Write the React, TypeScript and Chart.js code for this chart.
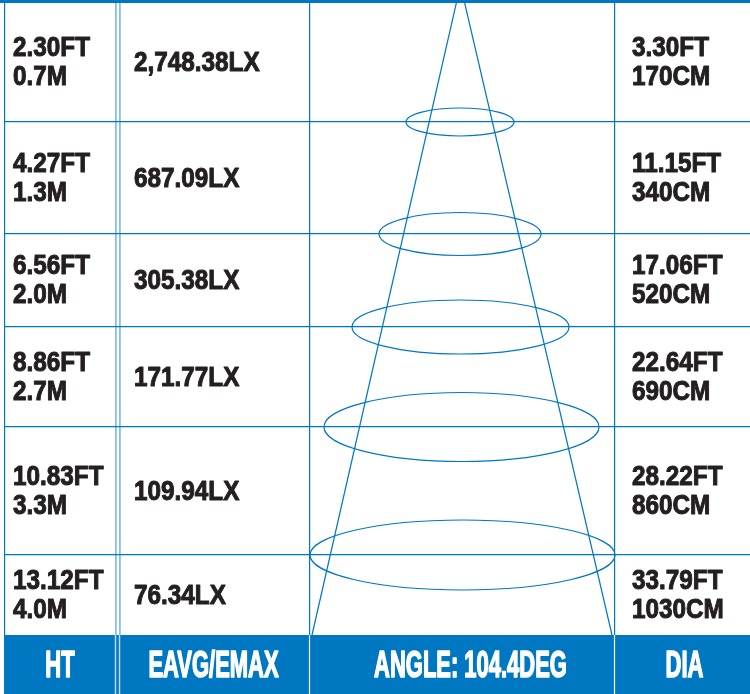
import React, { useEffect, useRef } from "react";
import { Chart, registerables } from "chart.js";

Chart.register(...registerables);

// ---- data ----
const HEIGHT_FT = [2.3, 4.27, 6.56, 8.86, 10.83, 13.12];
const HEIGHT_M = [0.7, 1.3, 2.0, 2.7, 3.3, 4.0];
const LUX = [2748.38, 687.09, 305.38, 171.77, 109.94, 76.34];
const DIA_FT = [3.3, 11.15, 17.06, 22.64, 28.22, 33.79];
const DIA_CM = [170, 340, 520, 690, 860, 1030];
const HEADERS = ["HT", "EAVG/EMAX", "ANGLE: 104.4DEG", "DIA"];

// ---- layout (diagram units = pixels of the 750x694 sheet) ----
const W = 750;
const H = 694;
const ROW_EDGES = [3, 122, 234, 327, 427, 555, 635];
const FOOTER_TOP = 635;
const LEFT = 4;
const COL_LINES = [4.5, 115.5, 119.5, 309.5, 614.5];
const LIGHT_COLS = [115.5, 119.5];
const TEXT_X = [13, 134, 632];
const HEADER_X = [60, 213.5, 470.5, 684.5];
const CONE_LEFT = [
  { x: 457, y: 0 },
  { x: 312, y: 635 },
];
const CONE_RIGHT = [
  { x: 464, y: 0 },
  { x: 612, y: 635 },
];
const ELL_CX = [460, 460, 460.5, 461.5, 462.5];
const ELL_RX = [54, 81, 108.5, 137.5, 152.5];
const ELL_RY = [14, 21.5, 27, 34.5, 35];

const BLUE = "#0077c1";
const LIGHT = "#86c0e8";
const INK = "#231f20";
const BODY_FONT = 'bold 27px "Liberation Sans", Arial, sans-serif';
const HEAD_FONT = 'bold 36px "Liberation Sans", Arial, sans-serif';

const fmtLux = (v: number) =>
  v.toLocaleString("en-US", { minimumFractionDigits: 2, maximumFractionDigits: 2 }) + "LX";

function squeezeText(
  ctx: CanvasRenderingContext2D,
  text: string,
  x: number,
  y: number,
  sx: number,
  align: "left" | "center",
  weight: number
) {
  ctx.save();
  ctx.translate(x, y);
  ctx.scale(sx, 1);
  ctx.textAlign = align;
  ctx.textBaseline = "alphabetic";
  ctx.lineJoin = "round";
  ctx.lineWidth = weight;
  ctx.strokeText(text, 0, 0);
  ctx.fillText(text, 0, 0);
  ctx.restore();
}

const tablePlugin = {
  id: "photometricTable",
  beforeDraw(chart: any) {
    const ctx = chart.ctx;
    ctx.save();
    ctx.fillStyle = "#ffffff";
    ctx.fillRect(0, 0, chart.width, chart.height);
    ctx.restore();
  },
  afterDatasetsDraw(chart: any) {
    const ctx: CanvasRenderingContext2D = chart.ctx;
    const xs = chart.scales.x;
    const ys = chart.scales.y;
    const px = (v: number) => xs.getPixelForValue(v);
    const py = (v: number) => ys.getPixelForValue(v);

    // ellipses at row boundaries
    ctx.save();
    ctx.strokeStyle = BLUE;
    ctx.lineWidth = 1.2;
    for (let i = 0; i < ELL_CX.length; i++) {
      const cx = px(ELL_CX[i]);
      const cy = py(ROW_EDGES[i + 1]);
      const rx = px(ELL_CX[i] + ELL_RX[i]) - cx;
      const ry = Math.abs(py(ROW_EDGES[i + 1] + ELL_RY[i]) - cy);
      ctx.beginPath();
      ctx.ellipse(cx, cy, rx, ry, 0, 0, Math.PI * 2);
      ctx.stroke();
    }
    ctx.restore();

    // top band
    ctx.save();
    ctx.fillStyle = BLUE;
    ctx.fillRect(0, 0, chart.width, py(3));
    // footer band
    const ft = py(FOOTER_TOP);
    ctx.fillRect(px(LEFT), ft, chart.width - px(LEFT), chart.height - ft);
    // footer dividers
    for (const c of COL_LINES.slice(1)) {
      ctx.strokeStyle = LIGHT_COLS.includes(c) ? "#b5dbf3" : "#ffffff";
      ctx.lineWidth = LIGHT_COLS.includes(c) ? 1.5 : 1.2;
      ctx.beginPath();
      ctx.moveTo(Math.round(px(c) - 0.5) + 0.5, ft);
      ctx.lineTo(Math.round(px(c) - 0.5) + 0.5, chart.height);
      ctx.stroke();
    }
    ctx.restore();

    // body text
    ctx.save();
    ctx.fillStyle = INK;
    ctx.strokeStyle = INK;
    ctx.font = BODY_FONT;
    for (let i = 0; i < HEIGHT_FT.length; i++) {
      const c = (py(ROW_EDGES[i]) + py(ROW_EDGES[i + 1])) / 2 - 1.5;
      const b1 = c - 5;
      const b2 = c + 24;
      squeezeText(ctx, HEIGHT_FT[i].toFixed(2) + "FT", px(TEXT_X[0]), b1, 0.9, "left", 1);
      squeezeText(ctx, HEIGHT_M[i].toFixed(1) + "M", px(TEXT_X[0]), b2, 0.9, "left", 1);
      squeezeText(ctx, fmtLux(LUX[i]), px(TEXT_X[1]), c + 10, 0.9, "left", 1);
      squeezeText(ctx, DIA_FT[i].toFixed(2) + "FT", px(TEXT_X[2]), b1, 0.9, "left", 1);
      squeezeText(ctx, DIA_CM[i] + "CM", px(TEXT_X[2]), b2, 0.9, "left", 1);
    }
    ctx.restore();

    // header text
    ctx.save();
    ctx.fillStyle = "#ffffff";
    ctx.strokeStyle = "#ffffff";
    ctx.font = HEAD_FONT;
    HEADERS.forEach((h, i) => {
      squeezeText(ctx, h, px(HEADER_X[i]), py(677), 0.61, "center", 1.6);
    });
    ctx.restore();
  },
};

export default function App() {
  const ref = useRef<HTMLCanvasElement | null>(null);

  useEffect(() => {
    document.body.style.margin = "0";
    document.body.style.overflow = "hidden";
    if (!ref.current) return;
    const chart = new Chart(ref.current, {
      type: "scatter",
      data: {
        datasets: [
          {
            data: CONE_LEFT,
            showLine: true,
            borderColor: BLUE,
            borderWidth: 1.2,
            pointRadius: 0,
          },
          {
            data: CONE_RIGHT,
            showLine: true,
            borderColor: BLUE,
            borderWidth: 1.2,
            pointRadius: 0,
          },
        ],
      },
      options: {
        responsive: false,
        maintainAspectRatio: false,
        animation: false,
        events: [],
        layout: { padding: { left: LEFT, right: 0, top: 0, bottom: 0 } },
        plugins: {
          legend: { display: false },
          tooltip: { enabled: false },
          title: { display: false },
        },
        scales: {
          x: {
            type: "linear",
            min: LEFT,
            max: W,
            border: { display: false },
            ticks: { display: false },
            afterBuildTicks: (axis: any) => {
              axis.ticks = COL_LINES.map((v) => ({ value: v }));
            },
            grid: {
              drawTicks: false,
              color: (ctx: any) => (LIGHT_COLS.includes(ctx.tick?.value) ? LIGHT : BLUE),
              lineWidth: (ctx: any) => (LIGHT_COLS.includes(ctx.tick?.value) ? 1.8 : 1.2),
            },
          },
          y: {
            type: "linear",
            min: 0,
            max: H,
            reverse: true,
            border: { display: false },
            ticks: { display: false },
            afterBuildTicks: (axis: any) => {
              axis.ticks = ROW_EDGES.slice(1, -1).map((v) => ({ value: v }));
            },
            grid: {
              drawTicks: false,
              color: BLUE,
              lineWidth: 1.2,
            },
          },
        },
      },
      plugins: [tablePlugin],
    });
    return () => chart.destroy();
  }, []);

  return (
    <div style={{ width: W, height: H, overflow: "hidden" }}>
      <canvas ref={ref} width={W} height={H} style={{ display: "block" }} />
    </div>
  );
}
